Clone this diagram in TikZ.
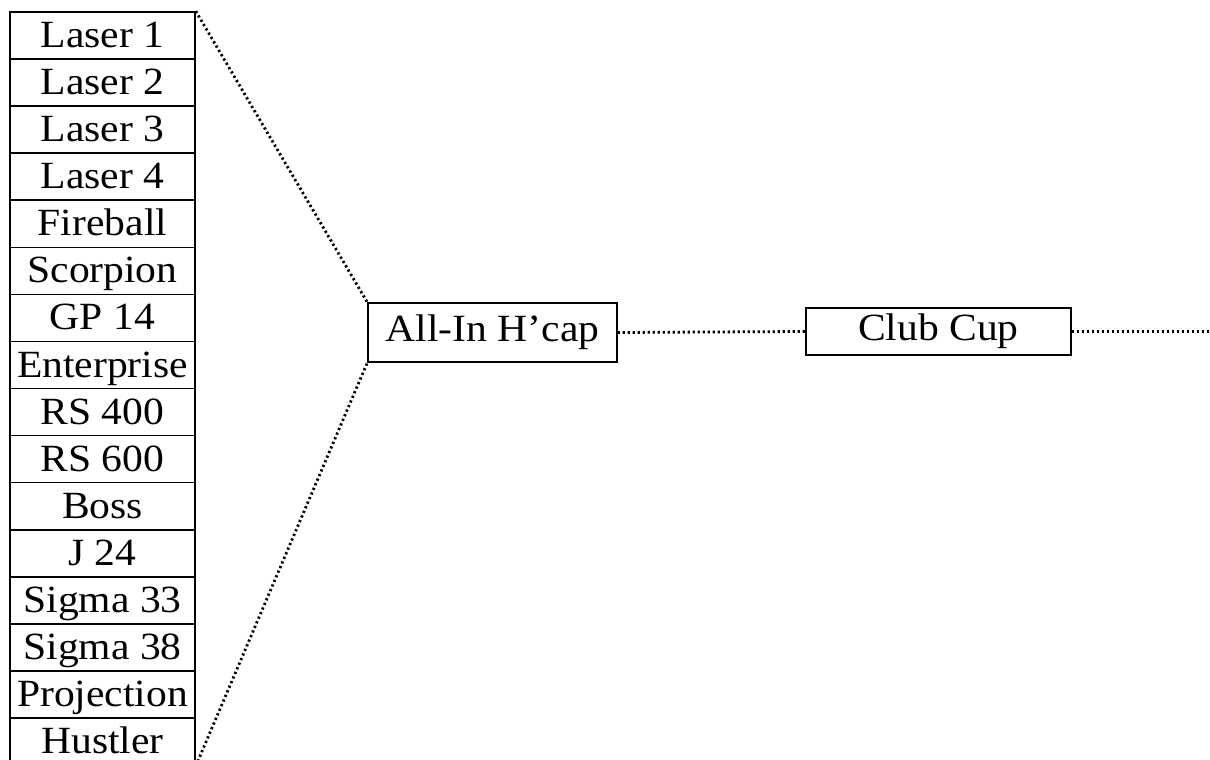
\documentclass[tikz,border=0pt]{standalone}
\usepackage{fontspec}
\setmainfont[FakeStretch=1.08]{Liberation Serif}
\begin{document}
\begin{tikzpicture}[x=1pt,y=1pt,
  rowbox/.style={draw, line width=1.6pt, minimum width=185pt, minimum height=47.07pt, inner sep=0pt, text height=35.5pt, text depth=11.5pt, font=\fontsize{38.5}{42}\selectfont, anchor=center},
  mainbox/.style={draw, line width=1.4pt, inner sep=0pt, font=\fontsize{38.5}{42}\selectfont},
  dotline/.style={line width=2.8pt, dash pattern=on 2.2pt off 2.8pt}]
\useasboundingbox (0,0) rectangle (1210,760);
\foreach \t [count=\i from 0] in {Laser 1,Laser 2,Laser 3,Laser 4,Fireball,Scorpion,GP 14,Enterprise,RS 400,RS 600,Boss,J 24,Sigma 33,Sigma 38,Projection,Hustler}{
  \node[rowbox] (r\i) at (102.5,{760-12-47.07*(\i+0.5)}) {\t};
}
\node[mainbox, minimum width=249pt, minimum height=59pt] (allin) at (492.5,427.5) {All-In H’cap};
\node[mainbox, minimum width=265pt, minimum height=47pt] (club) at (938.5,428.5) {Club Cup};
\coordinate (endr) at (1210,428.5);
\draw[dotline] (r0.north east) -- (allin.north west);
\draw[dotline] (r15.south east) -- (allin.south west);
\draw[dotline] (allin.east) -- (club.west);
\draw[dotline] (club.east) -- (endr);
\end{tikzpicture}
\end{document}
